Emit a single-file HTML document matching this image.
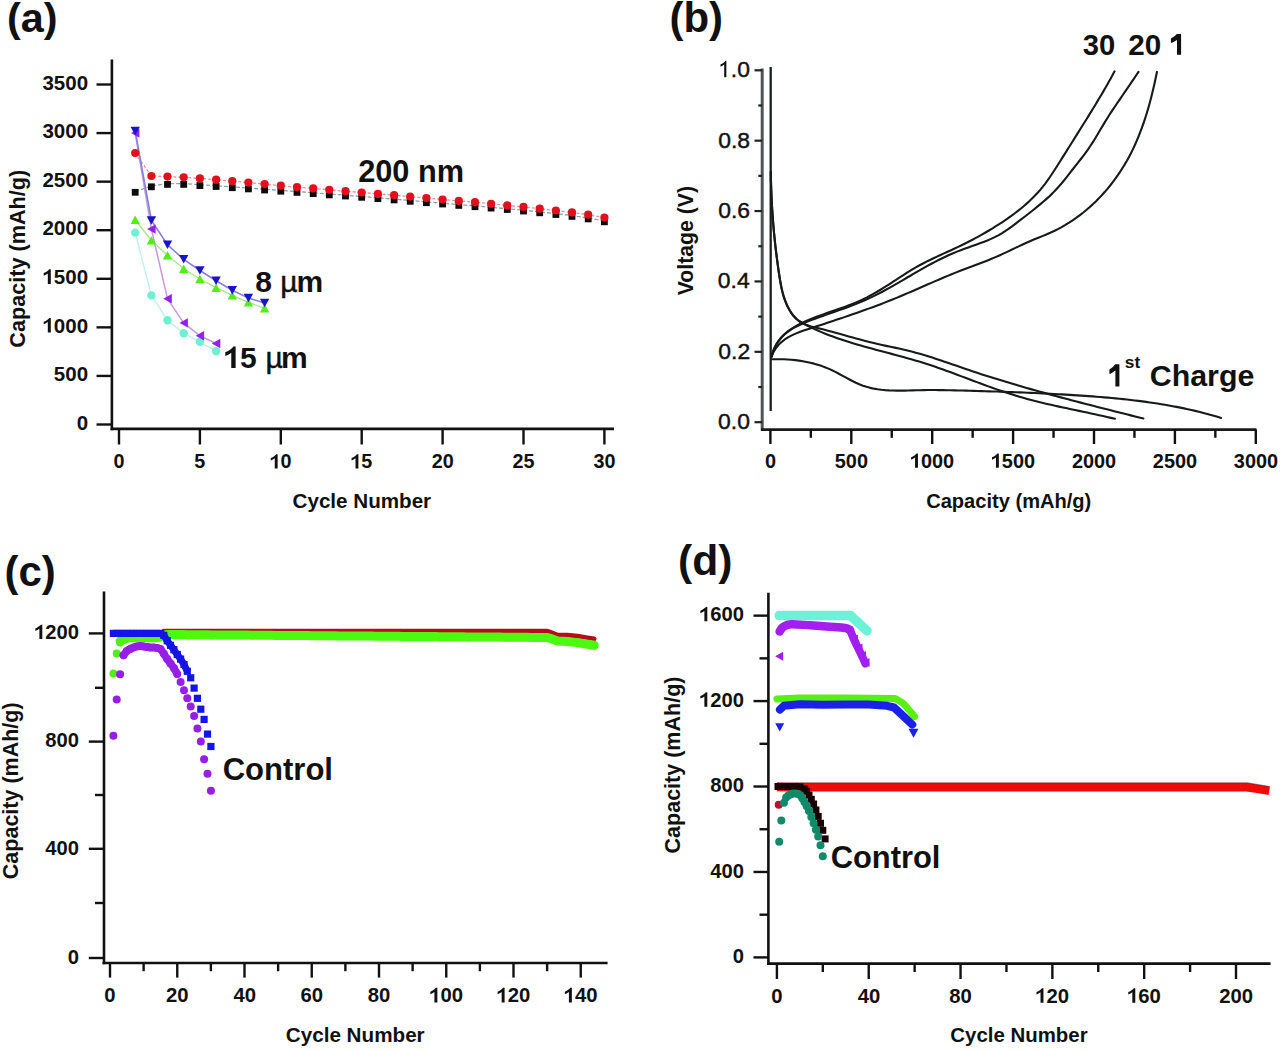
<!DOCTYPE html>
<html><head><meta charset="utf-8"><title>Figure</title><style>
html,body{margin:0;padding:0;background:#fff;}
body{width:1280px;height:1051px;overflow:hidden;}
svg{display:block;}
text{font-family:"Liberation Sans", sans-serif;fill:#111;}
</style></head><body>
<svg width="1280" height="1051" viewBox="0 0 1280 1051">
<rect x="0" y="0" width="1280" height="1051" fill="#fff"/>
<text x="7.09" y="32.20" font-size="41.38" font-weight="bold">(a)</text>
<line x1="111.90" y1="59.50" x2="111.90" y2="430.20" stroke="#111" stroke-width="2.6"/>
<line x1="110.60" y1="428.90" x2="614.00" y2="428.90" stroke="#111" stroke-width="2.6"/>
<line x1="96.50" y1="424.50" x2="112.00" y2="424.50" stroke="#111" stroke-width="2.4"/>
<text x="76.64" y="429.70" font-size="20.50" font-weight="bold">0</text>
<line x1="96.50" y1="375.93" x2="112.00" y2="375.93" stroke="#111" stroke-width="2.4"/>
<text x="53.84" y="381.13" font-size="20.50" font-weight="bold">500</text>
<line x1="96.50" y1="327.36" x2="112.00" y2="327.36" stroke="#111" stroke-width="2.4"/>
<path transform="translate(42.44,332.56) scale(20.500,-20.500)" d="M0.262,0 L0.262,0.515 Q0.17,0.44 0.062,0.405 L0.062,0.53 Q0.16,0.565 0.245,0.63 Q0.31,0.68 0.335,0.716 L0.407,0.716 L0.407,0 Z" fill="#111"/>
<text x="53.84 65.24 76.64" y="332.56" font-size="20.50" font-weight="bold">000</text>
<line x1="96.50" y1="278.79" x2="112.00" y2="278.79" stroke="#111" stroke-width="2.4"/>
<path transform="translate(42.44,283.99) scale(20.500,-20.500)" d="M0.262,0 L0.262,0.515 Q0.17,0.44 0.062,0.405 L0.062,0.53 Q0.16,0.565 0.245,0.63 Q0.31,0.68 0.335,0.716 L0.407,0.716 L0.407,0 Z" fill="#111"/>
<text x="53.84 65.24 76.64" y="283.99" font-size="20.50" font-weight="bold">500</text>
<line x1="96.50" y1="230.22" x2="112.00" y2="230.22" stroke="#111" stroke-width="2.4"/>
<text x="42.44" y="235.42" font-size="20.50" font-weight="bold">2000</text>
<line x1="96.50" y1="181.65" x2="112.00" y2="181.65" stroke="#111" stroke-width="2.4"/>
<text x="42.44" y="186.85" font-size="20.50" font-weight="bold">2500</text>
<line x1="96.50" y1="133.08" x2="112.00" y2="133.08" stroke="#111" stroke-width="2.4"/>
<text x="42.44" y="138.28" font-size="20.50" font-weight="bold">3000</text>
<line x1="96.50" y1="84.51" x2="112.00" y2="84.51" stroke="#111" stroke-width="2.4"/>
<text x="42.44" y="89.71" font-size="20.50" font-weight="bold">3500</text>
<line x1="119.00" y1="428.90" x2="119.00" y2="444.50" stroke="#111" stroke-width="2.4"/>
<text x="113.51" y="468.40" font-size="19.80" font-weight="bold">0</text>
<line x1="199.90" y1="428.90" x2="199.90" y2="444.50" stroke="#111" stroke-width="2.4"/>
<text x="194.37" y="468.40" font-size="19.80" font-weight="bold">5</text>
<line x1="280.80" y1="428.90" x2="280.80" y2="444.50" stroke="#111" stroke-width="2.4"/>
<path transform="translate(269.57,468.40) scale(19.800,-19.800)" d="M0.262,0 L0.262,0.515 Q0.17,0.44 0.062,0.405 L0.062,0.53 Q0.16,0.565 0.245,0.63 Q0.31,0.68 0.335,0.716 L0.407,0.716 L0.407,0 Z" fill="#111"/>
<text x="280.58" y="468.40" font-size="19.80" font-weight="bold">0</text>
<line x1="361.70" y1="428.90" x2="361.70" y2="444.50" stroke="#111" stroke-width="2.4"/>
<path transform="translate(350.34,468.40) scale(19.800,-19.800)" d="M0.262,0 L0.262,0.515 Q0.17,0.44 0.062,0.405 L0.062,0.53 Q0.16,0.565 0.245,0.63 Q0.31,0.68 0.335,0.716 L0.407,0.716 L0.407,0 Z" fill="#111"/>
<text x="361.35" y="468.40" font-size="19.80" font-weight="bold">5</text>
<line x1="442.60" y1="428.90" x2="442.60" y2="444.50" stroke="#111" stroke-width="2.4"/>
<text x="431.65" y="468.40" font-size="19.80" font-weight="bold">20</text>
<line x1="523.50" y1="428.90" x2="523.50" y2="444.50" stroke="#111" stroke-width="2.4"/>
<text x="512.42" y="468.40" font-size="19.80" font-weight="bold">25</text>
<line x1="604.40" y1="428.90" x2="604.40" y2="444.50" stroke="#111" stroke-width="2.4"/>
<text x="593.57" y="468.40" font-size="19.80" font-weight="bold">30</text>
<text x="292.55" y="507.50" font-size="20.61" font-weight="bold">Cycle Number</text>
<text transform="translate(24.60,347.69) rotate(-90)" font-size="21.63" font-weight="bold">Capacity (mAh/g)</text>
<path d="M135.2,191.5 L151.4,186.0 L167.5,183.6 L183.7,183.6 L199.9,184.8 L216.1,185.7 L232.3,186.9 L248.4,188.1 L264.6,189.2 L280.8,190.4 L297.0,191.6 L313.2,192.8 L329.3,194.1 L345.5,195.2 L361.7,196.5 L377.9,197.8 L394.1,199.1 L410.2,200.5 L426.4,201.9 L442.6,203.2 L458.8,204.6 L475.0,205.9 L491.1,207.3 L507.3,208.7 L523.5,210.2 L539.7,212.0 L555.9,213.7 L572.0,215.6 L588.2,218.1 L604.4,221.0" fill="none" stroke="#90a0a4" stroke-width="1.3" stroke-dasharray="4,2"/>
<path d="M135.2,153.0 L151.4,176.0 L167.5,176.6 L183.7,177.3 L199.9,178.4 L216.1,179.7 L232.3,181.2 L248.4,182.6 L264.6,184.1 L280.8,185.7 L297.0,187.1 L313.2,188.4 L329.3,189.8 L345.5,191.2 L361.7,192.5 L377.9,193.9 L394.1,195.2 L410.2,196.6 L426.4,198.0 L442.6,199.5 L458.8,200.9 L475.0,202.2 L491.1,203.8 L507.3,205.4 L523.5,206.9 L539.7,208.7 L555.9,210.5 L572.0,212.4 L588.2,214.7 L604.4,217.6" fill="none" stroke="#f08c98" stroke-width="1.3" stroke-dasharray="3,2"/>
<path d="M135.2,232.6 L151.4,295.4 L167.5,320.3 L183.7,333.2 L199.9,341.8 L216.1,351.3" fill="none" stroke="#bff2ea" stroke-width="1.4"/>
<path d="M135.2,133.1 L151.4,229.1 L167.5,298.8 L183.7,322.9 L199.9,335.8 L216.1,343.5" fill="none" stroke="#c898dc" stroke-width="1.5"/>
<path d="M135.2,219.8 L151.4,240.4 L167.5,255.3 L183.7,268.8 L199.9,279.0 L216.1,287.7 L232.3,295.4 L248.4,302.3 L264.6,308.3" fill="none" stroke="#a8e888" stroke-width="1.4"/>
<path d="M135.2,130.9 L151.4,220.5 L167.5,244.8 L183.7,259.4 L199.9,270.5 L216.1,280.8 L232.3,290.3 L248.4,298.0 L264.6,303.1" fill="none" stroke="#8680dc" stroke-width="1.6"/>
<rect x="131.8" y="188.9" width="6.8" height="6.8" fill="#0c0c0c"/>
<rect x="148.0" y="183.4" width="6.8" height="6.8" fill="#0c0c0c"/>
<rect x="164.1" y="181.0" width="6.8" height="6.8" fill="#0c0c0c"/>
<rect x="180.3" y="181.0" width="6.8" height="6.8" fill="#0c0c0c"/>
<rect x="196.5" y="182.2" width="6.8" height="6.8" fill="#0c0c0c"/>
<rect x="212.7" y="183.1" width="6.8" height="6.8" fill="#0c0c0c"/>
<rect x="228.9" y="184.3" width="6.8" height="6.8" fill="#0c0c0c"/>
<rect x="245.0" y="185.5" width="6.8" height="6.8" fill="#0c0c0c"/>
<rect x="261.2" y="186.6" width="6.8" height="6.8" fill="#0c0c0c"/>
<rect x="277.4" y="187.8" width="6.8" height="6.8" fill="#0c0c0c"/>
<rect x="293.6" y="189.0" width="6.8" height="6.8" fill="#0c0c0c"/>
<rect x="309.8" y="190.2" width="6.8" height="6.8" fill="#0c0c0c"/>
<rect x="325.9" y="191.5" width="6.8" height="6.8" fill="#0c0c0c"/>
<rect x="342.1" y="192.6" width="6.8" height="6.8" fill="#0c0c0c"/>
<rect x="358.3" y="193.9" width="6.8" height="6.8" fill="#0c0c0c"/>
<rect x="374.5" y="195.2" width="6.8" height="6.8" fill="#0c0c0c"/>
<rect x="390.7" y="196.5" width="6.8" height="6.8" fill="#0c0c0c"/>
<rect x="406.8" y="197.9" width="6.8" height="6.8" fill="#0c0c0c"/>
<rect x="423.0" y="199.3" width="6.8" height="6.8" fill="#0c0c0c"/>
<rect x="439.2" y="200.6" width="6.8" height="6.8" fill="#0c0c0c"/>
<rect x="455.4" y="202.0" width="6.8" height="6.8" fill="#0c0c0c"/>
<rect x="471.6" y="203.3" width="6.8" height="6.8" fill="#0c0c0c"/>
<rect x="487.7" y="204.7" width="6.8" height="6.8" fill="#0c0c0c"/>
<rect x="503.9" y="206.1" width="6.8" height="6.8" fill="#0c0c0c"/>
<rect x="520.1" y="207.6" width="6.8" height="6.8" fill="#0c0c0c"/>
<rect x="536.3" y="209.4" width="6.8" height="6.8" fill="#0c0c0c"/>
<rect x="552.5" y="211.1" width="6.8" height="6.8" fill="#0c0c0c"/>
<rect x="568.6" y="213.0" width="6.8" height="6.8" fill="#0c0c0c"/>
<rect x="584.8" y="215.5" width="6.8" height="6.8" fill="#0c0c0c"/>
<rect x="601.0" y="218.4" width="6.8" height="6.8" fill="#0c0c0c"/>
<circle cx="135.2" cy="153.0" r="4.1" fill="#e0101c"/>
<circle cx="151.4" cy="176.0" r="4.1" fill="#e0101c"/>
<circle cx="167.5" cy="176.6" r="4.1" fill="#e0101c"/>
<circle cx="183.7" cy="177.3" r="4.1" fill="#e0101c"/>
<circle cx="199.9" cy="178.4" r="4.1" fill="#e0101c"/>
<circle cx="216.1" cy="179.7" r="4.1" fill="#e0101c"/>
<circle cx="232.3" cy="181.2" r="4.1" fill="#e0101c"/>
<circle cx="248.4" cy="182.6" r="4.1" fill="#e0101c"/>
<circle cx="264.6" cy="184.1" r="4.1" fill="#e0101c"/>
<circle cx="280.8" cy="185.7" r="4.1" fill="#e0101c"/>
<circle cx="297.0" cy="187.1" r="4.1" fill="#e0101c"/>
<circle cx="313.2" cy="188.4" r="4.1" fill="#e0101c"/>
<circle cx="329.3" cy="189.8" r="4.1" fill="#e0101c"/>
<circle cx="345.5" cy="191.2" r="4.1" fill="#e0101c"/>
<circle cx="361.7" cy="192.5" r="4.1" fill="#e0101c"/>
<circle cx="377.9" cy="193.9" r="4.1" fill="#e0101c"/>
<circle cx="394.1" cy="195.2" r="4.1" fill="#e0101c"/>
<circle cx="410.2" cy="196.6" r="4.1" fill="#e0101c"/>
<circle cx="426.4" cy="198.0" r="4.1" fill="#e0101c"/>
<circle cx="442.6" cy="199.5" r="4.1" fill="#e0101c"/>
<circle cx="458.8" cy="200.9" r="4.1" fill="#e0101c"/>
<circle cx="475.0" cy="202.2" r="4.1" fill="#e0101c"/>
<circle cx="491.1" cy="203.8" r="4.1" fill="#e0101c"/>
<circle cx="507.3" cy="205.4" r="4.1" fill="#e0101c"/>
<circle cx="523.5" cy="206.9" r="4.1" fill="#e0101c"/>
<circle cx="539.7" cy="208.7" r="4.1" fill="#e0101c"/>
<circle cx="555.9" cy="210.5" r="4.1" fill="#e0101c"/>
<circle cx="572.0" cy="212.4" r="4.1" fill="#e0101c"/>
<circle cx="588.2" cy="214.7" r="4.1" fill="#e0101c"/>
<circle cx="604.4" cy="217.6" r="4.1" fill="#e0101c"/>
<circle cx="135.2" cy="232.6" r="4.2" fill="#6ef0d2"/>
<circle cx="151.4" cy="295.4" r="4.2" fill="#6ef0d2"/>
<circle cx="167.5" cy="320.3" r="4.2" fill="#6ef0d2"/>
<circle cx="183.7" cy="333.2" r="4.2" fill="#6ef0d2"/>
<circle cx="199.9" cy="341.8" r="4.2" fill="#6ef0d2"/>
<circle cx="216.1" cy="351.3" r="4.2" fill="#6ef0d2"/>
<path d="M130.5,224.1 L139.9,224.1 L135.2,215.6 Z" fill="#50f014"/>
<path d="M146.7,244.6 L156.1,244.6 L151.4,236.2 Z" fill="#50f014"/>
<path d="M162.8,259.5 L172.2,259.5 L167.5,251.1 Z" fill="#50f014"/>
<path d="M179.0,273.0 L188.4,273.0 L183.7,264.6 Z" fill="#50f014"/>
<path d="M195.2,283.2 L204.6,283.2 L199.9,274.8 Z" fill="#50f014"/>
<path d="M211.4,292.0 L220.8,292.0 L216.1,283.5 Z" fill="#50f014"/>
<path d="M227.6,299.6 L237.0,299.6 L232.3,291.2 Z" fill="#50f014"/>
<path d="M243.7,306.5 L253.1,306.5 L248.4,298.1 Z" fill="#50f014"/>
<path d="M259.9,312.6 L269.3,312.6 L264.6,304.1 Z" fill="#50f014"/>
<path d="M139.4,128.4 L139.4,137.8 L131.0,133.1 Z" fill="#961ef0"/>
<path d="M155.6,224.4 L155.6,233.8 L147.1,229.1 Z" fill="#961ef0"/>
<path d="M171.8,294.1 L171.8,303.5 L163.3,298.8 Z" fill="#961ef0"/>
<path d="M187.9,318.2 L187.9,327.6 L179.5,322.9 Z" fill="#961ef0"/>
<path d="M204.1,331.1 L204.1,340.5 L195.7,335.8 Z" fill="#961ef0"/>
<path d="M220.3,338.8 L220.3,348.2 L211.8,343.5 Z" fill="#961ef0"/>
<path d="M130.5,126.7 L139.9,126.7 L135.2,135.2 Z" fill="#1914c8"/>
<path d="M146.7,216.3 L156.1,216.3 L151.4,224.7 Z" fill="#1914c8"/>
<path d="M162.8,240.6 L172.2,240.6 L167.5,249.0 Z" fill="#1914c8"/>
<path d="M179.0,255.1 L188.4,255.1 L183.7,263.6 Z" fill="#1914c8"/>
<path d="M195.2,266.3 L204.6,266.3 L199.9,274.8 Z" fill="#1914c8"/>
<path d="M211.4,276.6 L220.8,276.6 L216.1,285.1 Z" fill="#1914c8"/>
<path d="M227.6,286.0 L237.0,286.0 L232.3,294.5 Z" fill="#1914c8"/>
<path d="M243.7,293.8 L253.1,293.8 L248.4,302.3 Z" fill="#1914c8"/>
<path d="M259.9,298.8 L269.3,298.8 L264.6,307.3 Z" fill="#1914c8"/>
<text x="358.24" y="182.00" font-size="30.69" font-weight="bold">200 nm</text>
<text x="255.35" y="291.90" font-size="30.00" font-weight="bold">8</text>
<text x="280.25" y="291.90" font-size="30.00" font-weight="normal" stroke="#111" stroke-width="0.45">µ</text>
<text x="296.52" y="291.90" font-size="30.00" font-weight="bold">m</text>
<path transform="translate(223.41,368.10) scale(30.000,-30.000)" d="M0.262,0 L0.262,0.515 Q0.17,0.44 0.062,0.405 L0.062,0.53 Q0.16,0.565 0.245,0.63 Q0.31,0.68 0.335,0.716 L0.407,0.716 L0.407,0 Z" fill="#111"/>
<text x="240.09" y="368.10" font-size="30.00" font-weight="bold">5</text>
<text x="265.45" y="368.10" font-size="30.00" font-weight="normal" stroke="#111" stroke-width="0.45">µ</text>
<text x="281.02" y="368.10" font-size="30.00" font-weight="bold">m</text>
<text x="669.51" y="32.00" font-size="41.96" font-weight="bold">(b)</text>
<line x1="762.20" y1="68.50" x2="762.20" y2="430.80" stroke="#4e5656" stroke-width="3.0"/>
<line x1="761.00" y1="429.60" x2="1256.50" y2="429.60" stroke="#1a1a1a" stroke-width="2.6"/>
<line x1="754.50" y1="422.20" x2="762.20" y2="422.20" stroke="#222" stroke-width="2.2"/>
<text x="718.06" y="429.10" font-size="22.90" font-weight="normal" stroke="#111" stroke-width="0.45">0.0</text>
<line x1="758.30" y1="387.01" x2="762.20" y2="387.01" stroke="#222" stroke-width="2.2"/>
<line x1="754.50" y1="351.82" x2="762.20" y2="351.82" stroke="#222" stroke-width="2.2"/>
<text x="718.32" y="358.72" font-size="22.90" font-weight="normal" stroke="#111" stroke-width="0.45">0.2</text>
<line x1="758.30" y1="316.63" x2="762.20" y2="316.63" stroke="#222" stroke-width="2.2"/>
<line x1="754.50" y1="281.44" x2="762.20" y2="281.44" stroke="#222" stroke-width="2.2"/>
<text x="717.84" y="288.34" font-size="22.90" font-weight="normal" stroke="#111" stroke-width="0.45">0.4</text>
<line x1="758.30" y1="246.25" x2="762.20" y2="246.25" stroke="#222" stroke-width="2.2"/>
<line x1="754.50" y1="211.06" x2="762.20" y2="211.06" stroke="#222" stroke-width="2.2"/>
<text x="718.17" y="217.96" font-size="22.90" font-weight="normal" stroke="#111" stroke-width="0.45">0.6</text>
<line x1="758.30" y1="175.87" x2="762.20" y2="175.87" stroke="#222" stroke-width="2.2"/>
<line x1="754.50" y1="140.68" x2="762.20" y2="140.68" stroke="#222" stroke-width="2.2"/>
<text x="718.16" y="147.58" font-size="22.90" font-weight="normal" stroke="#111" stroke-width="0.45">0.8</text>
<line x1="758.30" y1="105.49" x2="762.20" y2="105.49" stroke="#222" stroke-width="2.2"/>
<line x1="754.50" y1="70.30" x2="762.20" y2="70.30" stroke="#222" stroke-width="2.2"/>
<path transform="translate(718.06,77.20) scale(22.900,-22.900)" d="M0.268,0 L0.268,0.56 Q0.2,0.5 0.105,0.46 L0.105,0.55 Q0.2,0.595 0.27,0.655 Q0.305,0.69 0.318,0.716 L0.362,0.716 L0.362,0 Z" fill="#111"/>
<text x="730.80 737.16" y="77.20" font-size="22.90" font-weight="normal" stroke="#111" stroke-width="0.45">.0</text>
<line x1="770.40" y1="429.60" x2="770.40" y2="444.00" stroke="#111" stroke-width="2.4"/>
<text x="764.88" y="467.80" font-size="19.90" font-weight="bold">0</text>
<line x1="810.85" y1="429.60" x2="810.85" y2="437.80" stroke="#111" stroke-width="2.4"/>
<line x1="851.30" y1="429.60" x2="851.30" y2="444.00" stroke="#111" stroke-width="2.4"/>
<text x="834.80" y="467.80" font-size="19.90" font-weight="bold">500</text>
<line x1="891.75" y1="429.60" x2="891.75" y2="437.80" stroke="#111" stroke-width="2.4"/>
<line x1="932.20" y1="429.60" x2="932.20" y2="444.00" stroke="#111" stroke-width="2.4"/>
<path transform="translate(909.85,467.80) scale(19.900,-19.900)" d="M0.262,0 L0.262,0.515 Q0.17,0.44 0.062,0.405 L0.062,0.53 Q0.16,0.565 0.245,0.63 Q0.31,0.68 0.335,0.716 L0.407,0.716 L0.407,0 Z" fill="#111"/>
<text x="920.91 931.98 943.05" y="467.80" font-size="19.90" font-weight="bold">000</text>
<line x1="972.65" y1="429.60" x2="972.65" y2="437.80" stroke="#111" stroke-width="2.4"/>
<line x1="1013.10" y1="429.60" x2="1013.10" y2="444.00" stroke="#111" stroke-width="2.4"/>
<path transform="translate(990.75,467.80) scale(19.900,-19.900)" d="M0.262,0 L0.262,0.515 Q0.17,0.44 0.062,0.405 L0.062,0.53 Q0.16,0.565 0.245,0.63 Q0.31,0.68 0.335,0.716 L0.407,0.716 L0.407,0 Z" fill="#111"/>
<text x="1001.81 1012.88 1023.95" y="467.80" font-size="19.90" font-weight="bold">500</text>
<line x1="1053.55" y1="429.60" x2="1053.55" y2="437.80" stroke="#111" stroke-width="2.4"/>
<line x1="1094.00" y1="429.60" x2="1094.00" y2="444.00" stroke="#111" stroke-width="2.4"/>
<text x="1071.93" y="467.80" font-size="19.90" font-weight="bold">2000</text>
<line x1="1134.45" y1="429.60" x2="1134.45" y2="437.80" stroke="#111" stroke-width="2.4"/>
<line x1="1174.90" y1="429.60" x2="1174.90" y2="444.00" stroke="#111" stroke-width="2.4"/>
<text x="1152.83" y="467.80" font-size="19.90" font-weight="bold">2500</text>
<line x1="1215.35" y1="429.60" x2="1215.35" y2="437.80" stroke="#111" stroke-width="2.4"/>
<line x1="1255.80" y1="429.60" x2="1255.80" y2="444.00" stroke="#111" stroke-width="2.4"/>
<text x="1233.84" y="467.80" font-size="19.90" font-weight="bold">3000</text>
<text x="926.18" y="508.00" font-size="20.09" font-weight="bold">Capacity (mAh/g)</text>
<text transform="translate(692.50,295.25) rotate(-90)" font-size="21.22" font-weight="bold">Voltage (V)</text>
<line x1="770.7" y1="67" x2="770.7" y2="411" stroke="#1c2020" stroke-width="2.3"/>
<path d="M770.81,172.00 L770.88,176.31 L770.97,180.62 L771.09,184.94 L771.23,189.25 L771.39,193.55 L771.58,197.86 L771.79,202.17 L772.03,206.47 L772.29,210.77 L772.57,215.07 L772.88,219.37 L773.22,223.67 L773.58,227.96 L773.96,232.26 L774.37,236.55 L774.81,240.83 L775.27,245.12 L775.76,249.41 L776.28,253.69 L776.82,257.97 L777.39,262.24 L777.98,266.52 L778.61,270.79 L779.26,275.06 L779.94,279.33 L780.69,283.58 L781.54,287.80 L782.52,291.99 L783.67,296.12 L785.03,300.19 L786.62,304.19 L788.49,308.10 L790.67,311.90 L793.20,315.53 L796.10,318.78 L799.40,321.46 L803.08,323.52 L807.01,325.12 L811.11,326.41 L815.30,327.50 L819.53,328.53 L823.74,329.57 L827.93,330.66 L832.11,331.78 L836.27,332.92 L840.43,334.08 L844.57,335.24 L848.71,336.41 L852.84,337.58 L856.98,338.73 L861.13,339.86 L865.28,340.96 L869.44,342.03 L873.62,343.06 L877.81,344.03 L882.02,344.96 L886.25,345.85 L890.48,346.73 L894.71,347.62 L898.94,348.52 L903.15,349.46 L907.35,350.46 L911.53,351.53 L915.70,352.64 L919.85,353.82 L923.98,355.03 L928.10,356.29 L932.21,357.59 L936.31,358.92 L940.41,360.27 L944.50,361.65 L948.58,363.04 L952.66,364.44 L956.74,365.85 L960.82,367.25 L964.89,368.65 L968.98,370.05 L973.06,371.42 L977.16,372.78 L981.25,374.13 L985.36,375.45 L989.46,376.77 L993.58,378.06 L997.69,379.34 L1001.81,380.61 L1005.93,381.86 L1010.06,383.10 L1014.19,384.33 L1018.33,385.55 L1022.47,386.75 L1026.61,387.94 L1030.76,389.12 L1034.90,390.29 L1039.06,391.45 L1043.21,392.60 L1047.37,393.75 L1051.53,394.88 L1055.69,396.00 L1059.85,397.12 L1064.02,398.23 L1068.19,399.33 L1072.36,400.43 L1076.53,401.52 L1080.70,402.61 L1084.87,403.69 L1089.05,404.76 L1093.23,405.83 L1097.40,406.90 L1101.58,407.97 L1105.76,409.03 L1109.94,410.09 L1114.12,411.15 L1118.30,412.20 L1122.48,413.26 L1126.65,414.32 L1130.83,415.37 L1135.01,416.43 L1139.19,417.49 L1143.37,418.55" fill="none" stroke="#161a1a" stroke-width="2.1" stroke-linecap="round" stroke-linejoin="round"/>
<path d="M770.82,171.96 L770.88,176.08 L770.95,180.20 L771.05,184.30 L771.18,188.40 L771.32,192.49 L771.49,196.57 L771.69,200.65 L771.91,204.72 L772.15,208.79 L772.41,212.85 L772.70,216.91 L773.01,220.96 L773.34,225.01 L773.69,229.06 L774.07,233.12 L774.47,237.17 L774.89,241.22 L775.34,245.27 L775.80,249.32 L776.29,253.38 L776.80,257.44 L777.33,261.51 L777.89,265.58 L778.46,269.65 L779.06,273.73 L779.68,277.82 L780.34,281.90 L781.08,285.96 L781.92,289.99 L782.91,293.97 L784.06,297.87 L785.42,301.70 L787.01,305.42 L788.87,309.03 L791.02,312.51 L793.50,315.78 L796.33,318.74 L799.51,321.27 L803.00,323.39 L806.63,325.30 L810.29,327.12 L813.99,328.86 L817.71,330.53 L821.45,332.13 L825.22,333.67 L829.02,335.15 L832.83,336.58 L836.66,337.95 L840.51,339.28 L844.38,340.56 L848.26,341.80 L852.16,343.00 L856.06,344.17 L859.98,345.31 L863.91,346.43 L867.85,347.53 L871.79,348.60 L875.74,349.67 L879.70,350.73 L883.65,351.77 L887.61,352.82 L891.57,353.87 L895.52,354.93 L899.48,355.99 L903.42,357.07 L907.37,358.17 L911.30,359.28 L915.23,360.43 L919.15,361.60 L923.06,362.80 L926.95,364.04 L930.83,365.32 L934.70,366.62 L938.57,367.96 L942.42,369.32 L946.26,370.70 L950.10,372.09 L953.94,373.51 L957.77,374.94 L961.59,376.37 L965.42,377.81 L969.24,379.25 L973.06,380.69 L976.89,382.13 L980.71,383.56 L984.54,384.97 L988.38,386.38 L992.22,387.76 L996.06,389.13 L999.92,390.47 L1003.78,391.78 L1007.66,393.06 L1011.54,394.31 L1015.44,395.52 L1019.35,396.70 L1023.27,397.83 L1027.21,398.92 L1031.15,399.97 L1035.11,401.00 L1039.08,401.99 L1043.05,402.96 L1047.04,403.90 L1051.03,404.82 L1055.02,405.72 L1059.02,406.61 L1063.02,407.48 L1067.02,408.34 L1071.03,409.19 L1075.04,410.04 L1079.04,410.88 L1083.05,411.73 L1087.05,412.57 L1091.05,413.43 L1095.04,414.29 L1099.03,415.16 L1103.01,416.04 L1106.98,416.94 L1110.94,417.86 L1114.90,418.80" fill="none" stroke="#161a1a" stroke-width="2.1" stroke-linecap="round" stroke-linejoin="round"/>
<path d="M771.64,356.72 L772.63,352.71 L773.98,348.94 L775.66,345.40 L777.65,342.09 L779.92,339.00 L782.45,336.14 L785.21,333.50 L788.17,331.08 L791.31,328.86 L794.59,326.83 L797.99,324.95 L801.47,323.20 L805.01,321.55 L808.58,319.99 L812.19,318.51 L815.82,317.09 L819.48,315.72 L823.15,314.39 L826.83,313.09 L830.52,311.81 L834.21,310.54 L837.89,309.27 L841.57,307.98 L845.23,306.66 L848.87,305.30 L852.48,303.90 L856.06,302.44 L859.61,300.90 L863.12,299.29 L866.58,297.58 L870.00,295.78 L873.38,293.92 L876.73,291.98 L880.05,289.99 L883.35,287.95 L886.63,285.88 L889.90,283.78 L893.16,281.66 L896.42,279.53 L899.69,277.41 L902.96,275.30 L906.24,273.21 L909.54,271.16 L912.87,269.15 L916.22,267.19 L919.60,265.29 L923.02,263.46 L926.47,261.68 L929.95,259.96 L933.45,258.28 L936.96,256.63 L940.49,255.00 L944.02,253.39 L947.56,251.78 L951.09,250.17 L954.61,248.54 L958.12,246.90 L961.61,245.22 L965.09,243.51 L968.54,241.76 L971.98,239.98 L975.40,238.17 L978.80,236.31 L982.18,234.43 L985.54,232.50 L988.89,230.53 L992.21,228.53 L995.51,226.48 L998.80,224.39 L1002.06,222.26 L1005.30,220.09 L1008.52,217.86 L1011.70,215.59 L1014.83,213.27 L1017.93,210.89 L1020.97,208.45 L1023.96,205.95 L1026.89,203.39 L1029.75,200.77 L1032.54,198.08 L1035.26,195.32 L1037.89,192.49 L1040.44,189.58 L1042.89,186.59 L1045.25,183.53 L1047.54,180.41 L1049.76,177.24 L1051.94,174.02 L1054.07,170.78 L1056.17,167.51 L1058.26,164.23 L1060.34,160.95 L1062.41,157.67 L1064.48,154.38 L1066.55,151.09 L1068.61,147.80 L1070.67,144.51 L1072.73,141.22 L1074.78,137.93 L1076.84,134.64 L1078.89,131.35 L1080.95,128.06 L1083.01,124.77 L1085.06,121.48 L1087.11,118.19 L1089.16,114.89 L1091.20,111.59 L1093.23,108.29 L1095.25,104.98 L1097.26,101.66 L1099.25,98.33 L1101.24,95.00 L1103.20,91.65 L1105.15,88.29 L1107.07,84.93 L1108.98,81.54 L1110.86,78.15 L1112.72,74.74 L1114.55,71.31" fill="none" stroke="#161a1a" stroke-width="2.1" stroke-linecap="round" stroke-linejoin="round"/>
<path d="M771.64,356.70 L772.75,352.64 L774.22,348.78 L776.04,345.12 L778.17,341.69 L780.61,338.50 L783.32,335.57 L786.29,332.91 L789.49,330.54 L792.88,328.43 L796.43,326.53 L800.08,324.79 L803.80,323.16 L807.55,321.60 L811.32,320.11 L815.10,318.66 L818.90,317.26 L822.71,315.90 L826.53,314.56 L830.35,313.23 L834.17,311.91 L837.98,310.59 L841.79,309.26 L845.59,307.91 L849.37,306.53 L853.14,305.11 L856.88,303.64 L860.59,302.12 L864.28,300.54 L867.93,298.89 L871.56,297.17 L875.16,295.40 L878.74,293.57 L882.30,291.70 L885.84,289.79 L889.36,287.84 L892.87,285.86 L896.38,283.86 L899.87,281.84 L903.36,279.81 L906.85,277.77 L910.34,275.73 L913.83,273.69 L917.33,271.66 L920.83,269.65 L924.35,267.66 L927.88,265.70 L931.43,263.77 L935.00,261.88 L938.59,260.03 L942.20,258.23 L945.84,256.49 L949.51,254.80 L953.22,253.19 L956.95,251.65 L960.73,250.18 L964.53,248.77 L968.36,247.41 L972.19,246.06 L976.02,244.72 L979.83,243.34 L983.61,241.92 L987.36,240.44 L991.06,238.86 L994.69,237.16 L998.25,235.34 L1001.73,233.35 L1005.13,231.22 L1008.46,228.96 L1011.73,226.59 L1014.97,224.16 L1018.19,221.69 L1021.39,219.20 L1024.60,216.72 L1027.81,214.23 L1031.00,211.74 L1034.18,209.23 L1037.32,206.69 L1040.43,204.13 L1043.50,201.52 L1046.52,198.86 L1049.48,196.15 L1052.37,193.37 L1055.19,190.51 L1057.92,187.58 L1060.58,184.56 L1063.16,181.47 L1065.70,178.33 L1068.20,175.16 L1070.68,171.96 L1073.17,168.77 L1075.66,165.59 L1078.17,162.41 L1080.66,159.23 L1083.12,156.03 L1085.54,152.80 L1087.89,149.54 L1090.17,146.22 L1092.38,142.85 L1094.52,139.44 L1096.62,136.00 L1098.70,132.55 L1100.75,129.08 L1102.81,125.61 L1104.88,122.16 L1106.98,118.72 L1109.13,115.31 L1111.32,111.93 L1113.55,108.57 L1115.80,105.23 L1118.07,101.90 L1120.35,98.58 L1122.63,95.25 L1124.91,91.92 L1127.18,88.59 L1129.45,85.26 L1131.72,81.92 L1133.98,78.58 L1136.23,75.23 L1138.48,71.88" fill="none" stroke="#161a1a" stroke-width="2.1" stroke-linecap="round" stroke-linejoin="round"/>
<path d="M771.58,356.67 L773.33,352.44 L775.55,348.65 L778.18,345.29 L781.16,342.32 L784.45,339.70 L787.98,337.39 L791.72,335.38 L795.59,333.61 L799.58,332.04 L803.63,330.61 L807.72,329.25 L811.81,327.91 L815.90,326.57 L819.99,325.23 L824.07,323.89 L828.15,322.55 L832.23,321.20 L836.29,319.85 L840.36,318.49 L844.41,317.12 L848.46,315.74 L852.51,314.35 L856.54,312.94 L860.57,311.52 L864.60,310.09 L868.61,308.63 L872.62,307.16 L876.62,305.67 L880.62,304.16 L884.60,302.62 L888.58,301.06 L892.55,299.48 L896.51,297.86 L900.46,296.22 L904.40,294.56 L908.33,292.88 L912.27,291.18 L916.20,289.47 L920.12,287.76 L924.05,286.04 L927.98,284.32 L931.91,282.60 L935.84,280.90 L939.78,279.21 L943.72,277.53 L947.68,275.88 L951.64,274.25 L955.61,272.65 L959.60,271.08 L963.59,269.54 L967.60,268.03 L971.60,266.52 L975.61,265.02 L979.61,263.50 L983.60,261.97 L987.58,260.41 L991.54,258.80 L995.48,257.15 L999.40,255.43 L1003.29,253.66 L1007.17,251.85 L1011.03,250.02 L1014.90,248.17 L1018.77,246.33 L1022.64,244.52 L1026.54,242.74 L1030.46,241.01 L1034.40,239.34 L1038.37,237.73 L1042.34,236.12 L1046.30,234.48 L1050.23,232.78 L1054.11,230.99 L1057.93,229.08 L1061.69,227.05 L1065.40,224.92 L1069.04,222.68 L1072.62,220.35 L1076.14,217.91 L1079.59,215.37 L1082.98,212.75 L1086.29,210.03 L1089.54,207.23 L1092.71,204.35 L1095.81,201.39 L1098.83,198.35 L1101.78,195.24 L1104.66,192.06 L1107.45,188.81 L1110.16,185.50 L1112.80,182.13 L1115.35,178.69 L1117.83,175.20 L1120.22,171.65 L1122.53,168.05 L1124.76,164.40 L1126.90,160.71 L1128.96,156.96 L1130.94,153.18 L1132.83,149.35 L1134.65,145.48 L1136.39,141.58 L1138.06,137.64 L1139.66,133.68 L1141.19,129.68 L1142.66,125.65 L1144.06,121.60 L1145.41,117.53 L1146.69,113.44 L1147.92,109.33 L1149.10,105.20 L1150.23,101.06 L1151.31,96.91 L1152.35,92.76 L1153.34,88.59 L1154.30,84.42 L1155.22,80.25 L1156.10,76.08 L1156.95,71.92" fill="none" stroke="#161a1a" stroke-width="2.1" stroke-linecap="round" stroke-linejoin="round"/>
<path d="M772.14,359.24 L776.02,359.18 L779.89,359.20 L783.75,359.30 L787.61,359.49 L791.45,359.78 L795.28,360.15 L799.08,360.63 L802.87,361.22 L806.63,361.91 L810.36,362.72 L814.06,363.64 L817.72,364.69 L821.35,365.87 L824.93,367.17 L828.47,368.61 L831.97,370.19 L835.42,371.90 L838.83,373.70 L842.23,375.55 L845.62,377.41 L849.02,379.25 L852.43,381.04 L855.88,382.73 L859.37,384.29 L862.91,385.68 L866.52,386.86 L870.19,387.85 L873.92,388.66 L877.68,389.30 L881.48,389.80 L885.30,390.16 L889.13,390.42 L892.97,390.57 L896.82,390.65 L900.68,390.65 L904.54,390.61 L908.40,390.52 L912.27,390.42 L916.13,390.31 L920.00,390.20 L923.86,390.12 L927.71,390.07 L931.56,390.05 L935.40,390.05 L939.24,390.08 L943.08,390.13 L946.92,390.19 L950.75,390.27 L954.58,390.36 L958.41,390.46 L962.24,390.56 L966.08,390.66 L969.91,390.77 L973.74,390.88 L977.57,390.99 L981.40,391.10 L985.24,391.21 L989.07,391.33 L992.90,391.45 L996.74,391.57 L1000.57,391.70 L1004.41,391.83 L1008.24,391.97 L1012.08,392.10 L1015.91,392.25 L1019.75,392.39 L1023.58,392.55 L1027.42,392.70 L1031.25,392.87 L1035.09,393.04 L1038.92,393.21 L1042.76,393.39 L1046.60,393.58 L1050.43,393.77 L1054.27,393.97 L1058.10,394.18 L1061.94,394.40 L1065.77,394.62 L1069.61,394.85 L1073.44,395.09 L1077.28,395.34 L1081.12,395.60 L1084.95,395.86 L1088.78,396.14 L1092.62,396.42 L1096.45,396.72 L1100.29,397.02 L1104.12,397.34 L1107.95,397.67 L1111.78,398.02 L1115.60,398.38 L1119.43,398.76 L1123.25,399.15 L1127.07,399.57 L1130.89,400.00 L1134.70,400.44 L1138.52,400.91 L1142.33,401.40 L1146.13,401.91 L1149.93,402.45 L1153.73,403.00 L1157.52,403.58 L1161.31,404.19 L1165.09,404.82 L1168.87,405.48 L1172.65,406.16 L1176.41,406.88 L1180.18,407.62 L1183.93,408.39 L1187.68,409.19 L1191.43,410.03 L1195.17,410.89 L1198.90,411.79 L1202.62,412.72 L1206.34,413.69 L1210.05,414.70 L1213.75,415.74 L1217.44,416.81 L1221.13,417.93" fill="none" stroke="#161a1a" stroke-width="2.1" stroke-linecap="round" stroke-linejoin="round"/>
<text x="1082.83" y="54.80" font-size="29.19" font-weight="bold">30</text>
<text x="1128.27" y="54.80" font-size="29.62" font-weight="bold">20</text>
<path d="M1176.8,34.0 L1181.1,34.0 L1181.1,54.8 L1177.0,54.8 L1177.0,39.9 L1171.7,43.0 L1170.9,42.5 L1170.9,38.6 Q1174.9,36.6 1176.8,34.0 Z" fill="#111"/>
<path d="M1115.2,364.3 L1119.4,364.3 L1119.4,386.4 L1115.4,386.4 L1115.4,370.5 L1110.2,373.9 L1109.4,373.4 L1109.4,369.4 Q1113.4,367.2 1115.2,364.3 Z" fill="#111"/>
<text x="1124.79" y="368.30" font-size="17.30" font-weight="bold">st</text>
<text x="1149.75" y="386.40" font-size="30.37" font-weight="bold">Charge</text>
<text x="4.41" y="585.60" font-size="41.96" font-weight="bold">(c)</text>
<line x1="104.00" y1="591.50" x2="104.00" y2="964.20" stroke="#111" stroke-width="2.6"/>
<line x1="102.60" y1="963.00" x2="607.60" y2="963.00" stroke="#111" stroke-width="2.6"/>
<line x1="88.80" y1="958.00" x2="104.00" y2="958.00" stroke="#111" stroke-width="2.4"/>
<text x="67.79" y="963.70" font-size="20.20" font-weight="bold">0</text>
<line x1="95.00" y1="903.00" x2="104.00" y2="903.00" stroke="#111" stroke-width="2.4"/>
<line x1="88.80" y1="848.80" x2="104.00" y2="848.80" stroke="#111" stroke-width="2.4"/>
<text x="45.33" y="854.50" font-size="20.20" font-weight="bold">400</text>
<line x1="95.00" y1="795.00" x2="104.00" y2="795.00" stroke="#111" stroke-width="2.4"/>
<line x1="88.80" y1="741.60" x2="104.00" y2="741.60" stroke="#111" stroke-width="2.4"/>
<text x="45.33" y="747.30" font-size="20.20" font-weight="bold">800</text>
<line x1="95.00" y1="687.80" x2="104.00" y2="687.80" stroke="#111" stroke-width="2.4"/>
<line x1="88.80" y1="633.40" x2="104.00" y2="633.40" stroke="#111" stroke-width="2.4"/>
<path transform="translate(34.09,639.10) scale(20.200,-20.200)" d="M0.262,0 L0.262,0.515 Q0.17,0.44 0.062,0.405 L0.062,0.53 Q0.16,0.565 0.245,0.63 Q0.31,0.68 0.335,0.716 L0.407,0.716 L0.407,0 Z" fill="#111"/>
<text x="45.33 56.56 67.79" y="639.10" font-size="20.20" font-weight="bold">200</text>
<line x1="110.00" y1="963.00" x2="110.00" y2="977.60" stroke="#111" stroke-width="2.4"/>
<text x="104.37" y="1002.40" font-size="20.30" font-weight="bold">0</text>
<line x1="143.62" y1="963.00" x2="143.62" y2="971.20" stroke="#111" stroke-width="2.4"/>
<line x1="177.25" y1="963.00" x2="177.25" y2="977.60" stroke="#111" stroke-width="2.4"/>
<text x="166.02" y="1002.40" font-size="20.30" font-weight="bold">20</text>
<line x1="210.88" y1="963.00" x2="210.88" y2="971.20" stroke="#111" stroke-width="2.4"/>
<line x1="244.50" y1="963.00" x2="244.50" y2="977.60" stroke="#111" stroke-width="2.4"/>
<text x="233.47" y="1002.40" font-size="20.30" font-weight="bold">40</text>
<line x1="278.12" y1="963.00" x2="278.12" y2="971.20" stroke="#111" stroke-width="2.4"/>
<line x1="311.75" y1="963.00" x2="311.75" y2="977.60" stroke="#111" stroke-width="2.4"/>
<text x="300.50" y="1002.40" font-size="20.30" font-weight="bold">60</text>
<line x1="345.38" y1="963.00" x2="345.38" y2="971.20" stroke="#111" stroke-width="2.4"/>
<line x1="379.00" y1="963.00" x2="379.00" y2="977.60" stroke="#111" stroke-width="2.4"/>
<text x="367.80" y="1002.40" font-size="20.30" font-weight="bold">80</text>
<line x1="412.62" y1="963.00" x2="412.62" y2="971.20" stroke="#111" stroke-width="2.4"/>
<line x1="446.25" y1="963.00" x2="446.25" y2="977.60" stroke="#111" stroke-width="2.4"/>
<path transform="translate(429.09,1002.40) scale(20.300,-20.300)" d="M0.262,0 L0.262,0.515 Q0.17,0.44 0.062,0.405 L0.062,0.53 Q0.16,0.565 0.245,0.63 Q0.31,0.68 0.335,0.716 L0.407,0.716 L0.407,0 Z" fill="#111"/>
<text x="440.38 451.67" y="1002.40" font-size="20.30" font-weight="bold">00</text>
<line x1="479.88" y1="963.00" x2="479.88" y2="971.20" stroke="#111" stroke-width="2.4"/>
<line x1="513.50" y1="963.00" x2="513.50" y2="977.60" stroke="#111" stroke-width="2.4"/>
<path transform="translate(496.34,1002.40) scale(20.300,-20.300)" d="M0.262,0 L0.262,0.515 Q0.17,0.44 0.062,0.405 L0.062,0.53 Q0.16,0.565 0.245,0.63 Q0.31,0.68 0.335,0.716 L0.407,0.716 L0.407,0 Z" fill="#111"/>
<text x="507.63 518.92" y="1002.40" font-size="20.30" font-weight="bold">20</text>
<line x1="547.12" y1="963.00" x2="547.12" y2="971.20" stroke="#111" stroke-width="2.4"/>
<line x1="580.75" y1="963.00" x2="580.75" y2="977.60" stroke="#111" stroke-width="2.4"/>
<path transform="translate(563.59,1002.40) scale(20.300,-20.300)" d="M0.262,0 L0.262,0.515 Q0.17,0.44 0.062,0.405 L0.062,0.53 Q0.16,0.565 0.245,0.63 Q0.31,0.68 0.335,0.716 L0.407,0.716 L0.407,0 Z" fill="#111"/>
<text x="574.88 586.17" y="1002.40" font-size="20.30" font-weight="bold">40</text>
<text x="285.75" y="1042.00" font-size="20.66" font-weight="bold">Cycle Number</text>
<text transform="translate(17.60,879.18) rotate(-90)" font-size="21.51" font-weight="bold">Capacity (mAh/g)</text>
<path d="M163.8,631.0 L167.2,631.0 L170.5,631.0 L173.9,631.0 L177.2,631.0 L180.6,631.0 L184.0,631.0 L187.3,631.0 L190.7,631.0 L194.1,631.0 L197.4,631.0 L200.8,631.0 L204.1,631.0 L207.5,631.0 L210.9,631.0 L214.2,631.0 L217.6,631.0 L221.0,631.0 L224.3,631.0 L227.7,631.0 L231.1,631.0 L234.4,631.0 L237.8,631.0 L241.1,631.0 L244.5,631.0 L247.9,631.0 L251.2,631.0 L254.6,631.0 L257.9,631.0 L261.3,631.0 L264.7,631.0 L268.0,631.0 L271.4,631.0 L274.8,631.0 L278.1,631.0 L281.5,631.0 L284.9,631.0 L288.2,631.0 L291.6,631.0 L294.9,631.0 L298.3,631.0 L301.7,631.0 L305.0,631.0 L308.4,631.0 L311.8,631.0 L315.1,631.0 L318.5,631.0 L321.8,631.0 L325.2,631.0 L328.6,631.0 L331.9,631.0 L335.3,631.0 L338.6,631.0 L342.0,631.0 L345.4,631.0 L348.7,631.0 L352.1,631.0 L355.5,631.0 L358.8,631.0 L362.2,631.0 L365.5,631.0 L368.9,631.0 L372.3,631.0 L375.6,631.0 L379.0,631.0 L382.4,631.0 L385.7,631.0 L389.1,631.0 L392.4,631.0 L395.8,631.0 L399.2,631.0 L402.5,631.0 L405.9,631.0 L409.3,631.0 L412.6,631.0 L416.0,631.0 L419.3,631.0 L422.7,631.0 L426.1,631.0 L429.4,631.0 L432.8,631.0 L436.2,631.0 L439.5,631.0 L442.9,631.0 L446.2,631.0 L449.6,631.0 L453.0,631.0 L456.3,631.0 L459.7,631.0 L463.1,631.0 L466.4,631.0 L469.8,631.0 L473.1,631.0 L476.5,631.0 L479.9,631.0 L483.2,631.0 L486.6,631.0 L490.0,631.0 L493.3,631.0 L496.7,631.0 L500.0,631.0 L503.4,631.0 L506.8,631.0 L510.1,631.0 L513.5,631.0 L516.9,631.0 L520.2,631.0 L523.6,631.0 L527.0,631.0 L530.3,631.0 L533.7,631.0 L537.0,631.0 L540.4,631.0 L543.8,631.0 L547.1,631.0 L550.5,632.1 L557.2,634.8 L567.3,635.1 L577.4,636.1 L587.5,637.8 L594.2,638.8" fill="none" stroke="#b80a18" stroke-width="4.6" stroke-linecap="round"/>
<path d="M120.1,641.0 L126.8,638.3 L130.2,637.8 L133.5,637.8 L136.9,637.8 L140.3,637.8 L143.6,637.8 L147.0,637.8 L150.3,637.8 L153.7,637.8 L157.1,637.8 L167.2,634.5 L170.5,634.5 L173.9,634.6 L177.2,634.6 L180.6,634.6 L184.0,634.6 L187.3,634.7 L190.7,634.7 L194.1,634.7 L197.4,634.8 L200.8,634.8 L204.1,634.8 L207.5,634.8 L210.9,634.9 L214.2,634.9 L217.6,634.9 L221.0,634.9 L224.3,635.0 L227.7,635.0 L231.1,635.0 L234.4,635.0 L237.8,635.1 L241.1,635.1 L244.5,635.1 L247.9,635.1 L251.2,635.2 L254.6,635.2 L257.9,635.2 L261.3,635.3 L264.7,635.3 L268.0,635.3 L271.4,635.3 L274.8,635.4 L278.1,635.4 L281.5,635.4 L284.9,635.4 L288.2,635.5 L291.6,635.5 L294.9,635.5 L298.3,635.5 L301.7,635.6 L305.0,635.6 L308.4,635.6 L311.8,635.7 L315.1,635.7 L318.5,635.7 L321.8,635.7 L325.2,635.8 L328.6,635.8 L331.9,635.8 L335.3,635.8 L338.6,635.9 L342.0,635.9 L345.4,635.9 L348.7,635.9 L352.1,636.0 L355.5,636.0 L358.8,636.0 L362.2,636.0 L365.5,636.1 L368.9,636.1 L372.3,636.1 L375.6,636.2 L379.0,636.2 L382.4,636.2 L385.7,636.2 L389.1,636.3 L392.4,636.3 L395.8,636.3 L399.2,636.3 L402.5,636.4 L405.9,636.4 L409.3,636.4 L412.6,636.4 L416.0,636.5 L419.3,636.5 L422.7,636.5 L426.1,636.5 L429.4,636.6 L432.8,636.6 L436.2,636.6 L439.5,636.7 L442.9,636.7 L446.2,636.7 L449.6,636.7 L453.0,636.8 L456.3,636.8 L459.7,636.8 L463.1,636.8 L466.4,636.9 L469.8,636.9 L473.1,636.9 L476.5,636.9 L479.9,637.0 L483.2,637.0 L486.6,637.0 L490.0,637.0 L493.3,637.1 L496.7,637.1 L500.0,637.1 L503.4,637.2 L506.8,637.2 L510.1,637.2 L513.5,637.2 L516.9,637.3 L520.2,637.3 L523.6,637.3 L527.0,637.3 L530.3,637.4 L533.7,637.4 L537.0,637.4 L540.4,637.4 L543.8,637.5 L547.1,637.5 L550.5,638.3 L557.2,641.0 L567.3,641.6 L577.4,642.6 L587.5,644.3 L594.2,645.3" fill="none" stroke="#4cfa10" stroke-width="9" stroke-linecap="round"/>
<circle cx="113.4" cy="673.5" r="4" fill="#50f014"/>
<circle cx="116.7" cy="653.5" r="4" fill="#50f014"/>
<circle cx="120.1" cy="642.6" r="4" fill="#50f014"/>
<circle cx="113.4" cy="735.7" r="4.0" fill="#961ee6"/>
<circle cx="116.7" cy="699.4" r="4.0" fill="#961ee6"/>
<circle cx="120.1" cy="674.3" r="4.0" fill="#961ee6"/>
<circle cx="123.5" cy="655.3" r="4.0" fill="#961ee6"/>
<circle cx="126.8" cy="651.0" r="4.0" fill="#961ee6"/>
<circle cx="130.2" cy="648.9" r="4.0" fill="#961ee6"/>
<circle cx="133.5" cy="647.5" r="4.0" fill="#961ee6"/>
<circle cx="136.9" cy="646.4" r="4.0" fill="#961ee6"/>
<circle cx="140.3" cy="646.1" r="4.0" fill="#961ee6"/>
<circle cx="143.6" cy="646.4" r="4.0" fill="#961ee6"/>
<circle cx="147.0" cy="647.0" r="4.0" fill="#961ee6"/>
<circle cx="150.3" cy="647.5" r="4.0" fill="#961ee6"/>
<circle cx="153.7" cy="647.5" r="4.0" fill="#961ee6"/>
<circle cx="157.1" cy="648.0" r="4.0" fill="#961ee6"/>
<circle cx="160.4" cy="648.9" r="4.0" fill="#961ee6"/>
<circle cx="163.8" cy="653.7" r="4.0" fill="#961ee6"/>
<circle cx="167.2" cy="658.9" r="4.0" fill="#961ee6"/>
<circle cx="170.5" cy="663.5" r="4.0" fill="#961ee6"/>
<circle cx="173.9" cy="668.1" r="4.0" fill="#961ee6"/>
<circle cx="177.2" cy="674.0" r="4.0" fill="#961ee6"/>
<circle cx="180.6" cy="682.1" r="4.0" fill="#961ee6"/>
<circle cx="184.0" cy="690.2" r="4.0" fill="#961ee6"/>
<circle cx="187.3" cy="698.3" r="4.0" fill="#961ee6"/>
<circle cx="190.7" cy="706.5" r="4.0" fill="#961ee6"/>
<circle cx="194.1" cy="715.9" r="4.0" fill="#961ee6"/>
<circle cx="197.4" cy="728.6" r="4.0" fill="#961ee6"/>
<circle cx="200.8" cy="741.6" r="4.0" fill="#961ee6"/>
<circle cx="204.1" cy="759.2" r="4.0" fill="#961ee6"/>
<circle cx="207.5" cy="773.8" r="4.0" fill="#961ee6"/>
<circle cx="210.9" cy="790.8" r="4.0" fill="#961ee6"/>
<path d="M123.5,655.3 C124.0,654.6 125.7,652.1 126.8,651.0 C127.9,649.9 129.1,649.4 130.2,648.9 C131.3,648.3 132.4,647.9 133.5,647.5 C134.7,647.1 135.8,646.6 136.9,646.4 C138.0,646.2 139.1,646.1 140.3,646.1 C141.4,646.1 142.5,646.3 143.6,646.4 C144.7,646.6 145.9,646.8 147.0,647.0 C148.1,647.1 149.2,647.4 150.3,647.5 C151.5,647.6 152.6,647.4 153.7,647.5 C154.8,647.6 156.0,647.8 157.1,648.0 C158.2,648.3 159.3,647.9 160.4,648.9 C161.6,649.8 162.7,652.1 163.8,653.7 C164.9,655.4 166.0,657.2 167.2,658.9 C168.3,660.5 169.4,661.9 170.5,663.5 C171.6,665.0 172.8,666.3 173.9,668.1 C175.0,669.8 176.7,673.0 177.2,674.0" fill="none" stroke="#961ee6" stroke-width="7.5" stroke-linejoin="round" stroke-linecap="round"/>
<rect x="109.8" y="629.8" width="7.2" height="7.2" fill="#1414e6"/>
<rect x="113.1" y="629.8" width="7.2" height="7.2" fill="#1414e6"/>
<rect x="116.5" y="629.8" width="7.2" height="7.2" fill="#1414e6"/>
<rect x="119.9" y="629.8" width="7.2" height="7.2" fill="#1414e6"/>
<rect x="123.2" y="629.8" width="7.2" height="7.2" fill="#1414e6"/>
<rect x="126.6" y="629.8" width="7.2" height="7.2" fill="#1414e6"/>
<rect x="129.9" y="629.8" width="7.2" height="7.2" fill="#1414e6"/>
<rect x="133.3" y="629.8" width="7.2" height="7.2" fill="#1414e6"/>
<rect x="136.7" y="629.8" width="7.2" height="7.2" fill="#1414e6"/>
<rect x="140.0" y="629.8" width="7.2" height="7.2" fill="#1414e6"/>
<rect x="143.4" y="629.8" width="7.2" height="7.2" fill="#1414e6"/>
<rect x="146.8" y="629.8" width="7.2" height="7.2" fill="#1414e6"/>
<rect x="150.1" y="629.8" width="7.2" height="7.2" fill="#1414e6"/>
<rect x="153.5" y="629.8" width="7.2" height="7.2" fill="#1414e6"/>
<rect x="156.8" y="629.8" width="7.2" height="7.2" fill="#1414e6"/>
<rect x="160.2" y="631.7" width="7.2" height="7.2" fill="#1414e6"/>
<rect x="163.6" y="637.1" width="7.2" height="7.2" fill="#1414e6"/>
<rect x="166.9" y="641.7" width="7.2" height="7.2" fill="#1414e6"/>
<rect x="170.3" y="646.1" width="7.2" height="7.2" fill="#1414e6"/>
<rect x="173.7" y="650.9" width="7.2" height="7.2" fill="#1414e6"/>
<rect x="177.0" y="655.5" width="7.2" height="7.2" fill="#1414e6"/>
<rect x="180.4" y="660.9" width="7.2" height="7.2" fill="#1414e6"/>
<rect x="183.7" y="667.7" width="7.2" height="7.2" fill="#1414e6"/>
<rect x="187.1" y="674.2" width="7.2" height="7.2" fill="#1414e6"/>
<rect x="190.5" y="684.5" width="7.2" height="7.2" fill="#1414e6"/>
<rect x="193.8" y="694.7" width="7.2" height="7.2" fill="#1414e6"/>
<rect x="197.2" y="705.6" width="7.2" height="7.2" fill="#1414e6"/>
<rect x="200.5" y="715.8" width="7.2" height="7.2" fill="#1414e6"/>
<rect x="203.9" y="730.5" width="7.2" height="7.2" fill="#1414e6"/>
<rect x="207.3" y="742.9" width="7.2" height="7.2" fill="#1414e6"/>
<path d="M157.1,633.4 L160.4,633.4 L163.8,635.3 L167.2,640.7 L170.5,645.3 L173.9,649.7 L177.2,654.5 L180.6,659.1 L184.0,664.5 L187.3,671.3" fill="none" stroke="#1414e6" stroke-width="7" stroke-linejoin="round"/>
<text x="222.63" y="779.90" font-size="31.05" font-weight="bold">Control</text>
<text x="678.08" y="575.00" font-size="42.64" font-weight="bold">(d)</text>
<line x1="768.40" y1="592.80" x2="768.40" y2="964.90" stroke="#111" stroke-width="2.6"/>
<line x1="767.00" y1="963.60" x2="1270.60" y2="963.60" stroke="#111" stroke-width="2.6"/>
<line x1="753.50" y1="957.40" x2="768.40" y2="957.40" stroke="#111" stroke-width="2.4"/>
<text x="732.79" y="963.10" font-size="20.20" font-weight="bold">0</text>
<line x1="759.50" y1="914.68" x2="768.40" y2="914.68" stroke="#111" stroke-width="2.4"/>
<line x1="753.50" y1="871.96" x2="768.40" y2="871.96" stroke="#111" stroke-width="2.4"/>
<text x="710.33" y="877.66" font-size="20.20" font-weight="bold">400</text>
<line x1="759.50" y1="829.24" x2="768.40" y2="829.24" stroke="#111" stroke-width="2.4"/>
<line x1="753.50" y1="786.52" x2="768.40" y2="786.52" stroke="#111" stroke-width="2.4"/>
<text x="710.33" y="792.22" font-size="20.20" font-weight="bold">800</text>
<line x1="759.50" y1="743.80" x2="768.40" y2="743.80" stroke="#111" stroke-width="2.4"/>
<line x1="753.50" y1="701.08" x2="768.40" y2="701.08" stroke="#111" stroke-width="2.4"/>
<path transform="translate(699.09,706.78) scale(20.200,-20.200)" d="M0.262,0 L0.262,0.515 Q0.17,0.44 0.062,0.405 L0.062,0.53 Q0.16,0.565 0.245,0.63 Q0.31,0.68 0.335,0.716 L0.407,0.716 L0.407,0 Z" fill="#111"/>
<text x="710.33 721.56 732.79" y="706.78" font-size="20.20" font-weight="bold">200</text>
<line x1="759.50" y1="658.36" x2="768.40" y2="658.36" stroke="#111" stroke-width="2.4"/>
<line x1="753.50" y1="615.64" x2="768.40" y2="615.64" stroke="#111" stroke-width="2.4"/>
<path transform="translate(699.09,621.34) scale(20.200,-20.200)" d="M0.262,0 L0.262,0.515 Q0.17,0.44 0.062,0.405 L0.062,0.53 Q0.16,0.565 0.245,0.63 Q0.31,0.68 0.335,0.716 L0.407,0.716 L0.407,0 Z" fill="#111"/>
<text x="710.33 721.56 732.79" y="621.34" font-size="20.20" font-weight="bold">600</text>
<line x1="776.90" y1="963.60" x2="776.90" y2="979.00" stroke="#111" stroke-width="2.4"/>
<text x="771.27" y="1002.80" font-size="20.30" font-weight="bold">0</text>
<line x1="822.81" y1="963.60" x2="822.81" y2="972.00" stroke="#111" stroke-width="2.4"/>
<line x1="868.72" y1="963.60" x2="868.72" y2="979.00" stroke="#111" stroke-width="2.4"/>
<text x="857.69" y="1002.80" font-size="20.30" font-weight="bold">40</text>
<line x1="914.63" y1="963.60" x2="914.63" y2="972.00" stroke="#111" stroke-width="2.4"/>
<line x1="960.54" y1="963.60" x2="960.54" y2="979.00" stroke="#111" stroke-width="2.4"/>
<text x="949.34" y="1002.80" font-size="20.30" font-weight="bold">80</text>
<line x1="1006.45" y1="963.60" x2="1006.45" y2="972.00" stroke="#111" stroke-width="2.4"/>
<line x1="1052.36" y1="963.60" x2="1052.36" y2="979.00" stroke="#111" stroke-width="2.4"/>
<path transform="translate(1035.20,1002.80) scale(20.300,-20.300)" d="M0.262,0 L0.262,0.515 Q0.17,0.44 0.062,0.405 L0.062,0.53 Q0.16,0.565 0.245,0.63 Q0.31,0.68 0.335,0.716 L0.407,0.716 L0.407,0 Z" fill="#111"/>
<text x="1046.49 1057.78" y="1002.80" font-size="20.30" font-weight="bold">20</text>
<line x1="1098.27" y1="963.60" x2="1098.27" y2="972.00" stroke="#111" stroke-width="2.4"/>
<line x1="1144.18" y1="963.60" x2="1144.18" y2="979.00" stroke="#111" stroke-width="2.4"/>
<path transform="translate(1127.02,1002.80) scale(20.300,-20.300)" d="M0.262,0 L0.262,0.515 Q0.17,0.44 0.062,0.405 L0.062,0.53 Q0.16,0.565 0.245,0.63 Q0.31,0.68 0.335,0.716 L0.407,0.716 L0.407,0 Z" fill="#111"/>
<text x="1138.31 1149.60" y="1002.80" font-size="20.30" font-weight="bold">60</text>
<line x1="1190.09" y1="963.60" x2="1190.09" y2="972.00" stroke="#111" stroke-width="2.4"/>
<line x1="1236.00" y1="963.60" x2="1236.00" y2="979.00" stroke="#111" stroke-width="2.4"/>
<text x="1219.13" y="1002.80" font-size="20.30" font-weight="bold">200</text>
<text x="950.36" y="1042.30" font-size="20.42" font-weight="bold">Cycle Number</text>
<text transform="translate(679.70,853.48) rotate(-90)" font-size="21.53" font-weight="bold">Capacity (mAh/g)</text>
<path d="M779.2,615.6 L850.4,615.6 L867.0,630.8" fill="none" stroke="#6cf2d6" stroke-width="9.5" stroke-linecap="round" stroke-linejoin="round"/>
<path d="M779.6,631.5 C780.1,630.8 781.3,628.6 782.5,627.5 C783.7,626.4 785.4,625.5 787.0,625.0 C788.6,624.5 788.2,624.2 792.0,624.2 C795.8,624.2 803.7,624.9 810.0,625.3 C816.3,625.7 824.2,626.3 830.0,626.8 C835.8,627.2 841.7,627.5 845.0,628.0 C848.3,628.5 849.2,629.7 850.0,630.0" fill="none" stroke="#a41ef0" stroke-width="8.5" stroke-linecap="round" stroke-linejoin="round"/>
<path d="M850.0,630.0 L853.0,637.3 L856.7,645.3 L860.0,652.0 L863.3,658.7 L865.3,663.5" fill="none" stroke="#a41ef0" stroke-width="8" stroke-linecap="round" stroke-linejoin="round"/>
<path d="M858.0,634.5 L858.0,643.5 L850.0,639.0 Z" fill="#a41ef0"/>
<path d="M862.5,643.5 L862.5,652.5 L854.5,648.0 Z" fill="#a41ef0"/>
<path d="M866.0,651.0 L866.0,660.0 L858.0,655.5 Z" fill="#a41ef0"/>
<path d="M869.5,658.0 L869.5,667.0 L861.5,662.5 Z" fill="#a41ef0"/>
<path d="M783.2,651.7 L783.2,660.7 L775.1,656.2 Z" fill="#a020e8"/>
<path d="M776.9,698.9 L799.9,698.1 L845.8,698.1 L895.1,698.5 L903.2,703.2 L914.6,716.5" fill="none" stroke="#58f010" stroke-width="7" stroke-linecap="round" stroke-linejoin="round"/>
<path d="M779.9,709.6 L783.8,705.8 L799.9,704.3 L822.8,704.7 L845.8,704.5 L868.7,704.5 L887.1,705.8 L894.0,707.5 L903.2,716.0 L912.3,724.6" fill="none" stroke="#1a22e8" stroke-width="8" stroke-linecap="round" stroke-linejoin="round"/>
<path d="M775.2,723.3 L784.2,723.3 L779.7,731.4 Z" fill="#1a22e8"/>
<path d="M908.5,728.8 L918.5,728.8 L913.5,737.8 Z" fill="#1a22e8"/>
<path d="M776.9,786.9 L788.4,787.2 L811.3,787.2 L834.3,787.2 L857.2,787.2 L880.2,787.2 L903.2,787.2 L926.1,787.2 L949.1,787.2 L972.0,787.2 L995.0,787.2 L1017.9,787.2 L1040.9,787.2 L1063.8,787.2 L1086.8,787.2 L1109.7,787.2 L1132.7,787.2 L1155.7,787.2 L1178.6,787.2 L1201.6,787.2 L1224.5,787.2 L1247.0,787.2 L1259.0,789.1 L1269.3,790.8" fill="none" stroke="#f20a0a" stroke-width="8.5" stroke-linecap="butt" stroke-linejoin="round"/>
<path d="M776.9,782.9 L1247.0,782.9 L1259.0,784.8 L1269.3,786.5" fill="none" stroke="#801010" stroke-width="1.2" opacity="0.6"/>
<rect x="774.5" y="783.0" width="7" height="7" fill="#1a0004"/>
<rect x="778.0" y="783.0" width="7" height="7" fill="#1a0004"/>
<rect x="782.6" y="783.0" width="7" height="7" fill="#1a0004"/>
<rect x="787.2" y="783.0" width="7" height="7" fill="#1a0004"/>
<rect x="791.8" y="783.0" width="7" height="7" fill="#1a0004"/>
<rect x="796.4" y="783.4" width="7" height="7" fill="#1a0004"/>
<rect x="800.9" y="785.2" width="7" height="7" fill="#1a0004"/>
<rect x="803.2" y="787.7" width="7" height="7" fill="#1a0004"/>
<rect x="805.5" y="791.6" width="7" height="7" fill="#1a0004"/>
<rect x="807.8" y="795.8" width="7" height="7" fill="#1a0004"/>
<rect x="810.1" y="800.5" width="7" height="7" fill="#1a0004"/>
<rect x="812.4" y="806.5" width="7" height="7" fill="#1a0004"/>
<rect x="814.7" y="812.9" width="7" height="7" fill="#1a0004"/>
<rect x="817.0" y="819.8" width="7" height="7" fill="#1a0004"/>
<rect x="819.3" y="826.8" width="7" height="7" fill="#1a0004"/>
<rect x="821.6" y="835.4" width="7" height="7" fill="#1a0004"/>
<circle cx="778.7" cy="804.7" r="4" fill="#c01030"/>
<circle cx="779.2" cy="841.8" r="4" fill="#12896a"/>
<circle cx="781.3" cy="820.5" r="4" fill="#12896a"/>
<circle cx="784.0" cy="802.8" r="4" fill="#12896a"/>
<circle cx="786.1" cy="797.6" r="4" fill="#12896a"/>
<circle cx="788.4" cy="795.5" r="4" fill="#12896a"/>
<circle cx="790.7" cy="794.2" r="4" fill="#12896a"/>
<circle cx="793.0" cy="793.6" r="4" fill="#12896a"/>
<circle cx="795.3" cy="793.4" r="4" fill="#12896a"/>
<circle cx="797.6" cy="793.8" r="4" fill="#12896a"/>
<circle cx="799.9" cy="795.1" r="4" fill="#12896a"/>
<circle cx="802.2" cy="798.3" r="4" fill="#12896a"/>
<circle cx="804.4" cy="801.9" r="4" fill="#12896a"/>
<circle cx="806.7" cy="806.2" r="4" fill="#12896a"/>
<circle cx="809.0" cy="811.1" r="4" fill="#12896a"/>
<circle cx="811.3" cy="816.9" r="4" fill="#12896a"/>
<circle cx="813.6" cy="823.3" r="4" fill="#12896a"/>
<circle cx="815.9" cy="829.7" r="4" fill="#12896a"/>
<circle cx="818.2" cy="836.5" r="4" fill="#12896a"/>
<circle cx="820.5" cy="845.3" r="4" fill="#12896a"/>
<circle cx="822.8" cy="856.2" r="4" fill="#12896a"/>
<text x="830.63" y="867.70" font-size="30.90" font-weight="bold">Control</text>
</svg>
</body></html>
